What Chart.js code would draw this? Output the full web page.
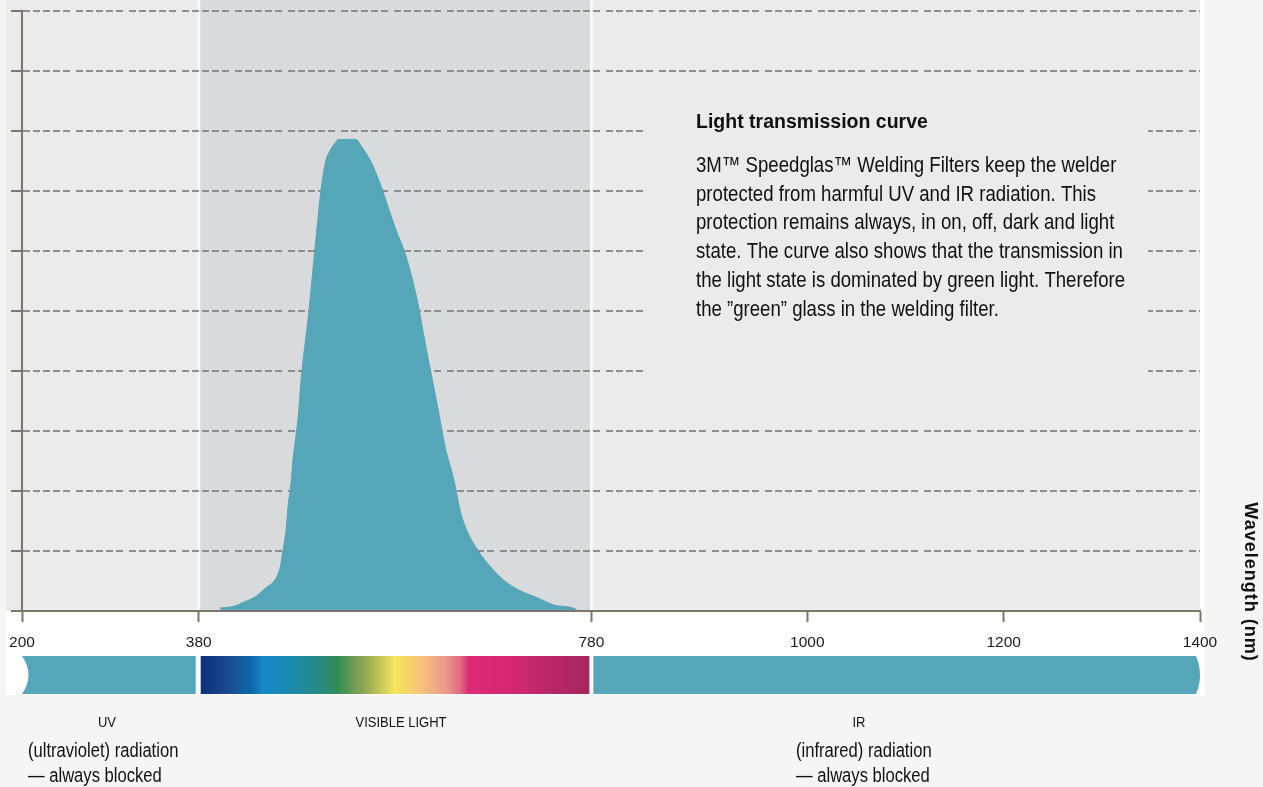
<!DOCTYPE html>
<html>
<head>
<meta charset="utf-8">
<script src="https://cdn.jsdelivr.net/npm/chart.js@4.4.1/dist/chart.umd.min.js"></script>
<style>
    html, body { margin: 0; padding: 0; background: #f5f5f5; }
    #wrap { width: 1263px; height: 787px; }
</style>
</head>
<body>
<div id="wrap"><canvas id="myChart" width="1263" height="787"></canvas></div>
<script>
// curve (nm / relative transmission, 0-100)
const wavelengths = [402, 416, 425, 438, 448, 459, 463, 466, 469, 471, 474, 476, 479, 482, 484, 492, 497, 500, 505, 509,
    514, 520, 522, 540, 546, 556, 566, 573, 581, 590, 597, 604, 610, 618, 624, 631, 640, 647, 653, 662,
    674, 691, 706, 725, 742, 764, 766];
const transmission = [0.5, 0.8, 1.4, 2.4, 3.8, 5.5, 7.3, 10.2, 13.5, 17.4, 21.3, 25.2, 29.1, 33.5, 38.0, 49.6, 58.0, 63.0, 70.7, 74.7,
    76.8, 78.2, 78.6, 78.6, 77.4, 74.7, 70.7, 67.3, 63.5, 59.7, 55.7, 50.7, 45.3, 38.5, 33.5, 27.4, 21.8, 16.3, 13.5, 10.7,
    8.0, 5.1, 3.5, 2.2, 1.0, 0.3, 0];

const tickValues = [200, 380, 780, 1000, 1200, 1400];

const bandNames = ['UV', 'VISIBLE LIGHT', 'IR'];
const bandStart = [200, 380, 780];
const bandEnd = [380, 780, 1400];
const bandNotes = [['(ultraviolet) radiation', '\u2014 always blocked'], [], ['(infrared) radiation', '\u2014 always blocked']];

const spectrumStops = [0, 0.08, 0.13, 0.16, 0.22, 0.30, 0.35, 0.42, 0.50, 0.57, 0.63, 0.67, 0.69, 0.80, 1];
const spectrumColors = ['#0b2f78', '#1a4f93', '#0a68ac', '#1589c7', '#1a8ab4', '#268a88', '#318a55', '#8ea653',
    '#f7e65a', '#f6c07c', '#eb9a8a', '#e06680', '#dc2a77', '#d32870', '#a3265d'];

const noteTitle = 'Light transmission curve';
const noteLines = [
    '3M\u2122 Speedglas\u2122 Welding Filters keep the welder',
    'protected from harmful UV and IR radiation. This',
    'protection remains always, in on, off, dark and light',
    'state. The curve also shows that the transmission in',
    'the light state is dominated by green light. Therefore',
    'the \u201dgreen\u201d glass in the welding filter.'
];
const axisTitle = 'Wavelength (nm)';

const TEAL = '#55a6b8';
const AXIS = '#7b7770';
const GRID = '#8e8e8e';
const PANEL_BG = '#ebebeb';
const VISIBLE_BG = '#d9dadc';
const PAGE_BG = '#f5f5f5';
const FONT = "'Liberation Sans', Arial, sans-serif";

let myChart = null;

// no narrow face installed, so squeeze the regular one sideways
function condensedText(ctx, text, x, y, sx) {
    ctx.save();
    ctx.translate(x, y);
    ctx.scale(sx, 1);
    ctx.fillText(text, 0, 0);
    ctx.restore();
}

const backdropPlugin = {
    id: 'backdrop',
    beforeDraw(chart) {
        const { ctx, chartArea: a } = chart;
        const x = chart.scales.x;
        ctx.save();
        ctx.fillStyle = PAGE_BG;
        ctx.fillRect(0, 0, chart.width, chart.height);
        ctx.fillStyle = '#ffffff';
        ctx.fillRect(6, 0, a.right - 1, 695);
        ctx.fillStyle = PANEL_BG;
        ctx.fillRect(6, 0, a.right - 6, a.bottom);

        const v0 = x.getPixelForValue(bandStart[1]);
        const v1 = x.getPixelForValue(bandEnd[1]);
        ctx.fillStyle = VISIBLE_BG;
        ctx.fillRect(v0, 0, v1 - v0, a.bottom);
        ctx.strokeStyle = '#f8f8f8';
        ctx.lineWidth = 3;
        [v0, v1].forEach(px => {
            ctx.beginPath();
            ctx.moveTo(px, 0);
            ctx.lineTo(px, a.bottom);
            ctx.stroke();
        });
        ctx.restore();
    }
};

const notePlugin = {
    id: 'note',
    afterDatasetsDraw(chart) {
        const ctx = chart.ctx;
        ctx.save();
        ctx.fillStyle = PANEL_BG;
        ctx.fillRect(643, 100, 505, 300);
        ctx.fillStyle = '#111111';
        ctx.textAlign = 'left';
        ctx.textBaseline = 'alphabetic';
        ctx.font = `bold 19.5px ${FONT}`;
        ctx.fillText(noteTitle, 696, 128);
        ctx.font = `21.5px ${FONT}`;
        noteLines.forEach((line, i) => condensedText(ctx, line, 696, 172 + i * 28.7, 0.865));
        ctx.restore();
    }
};

const bandPlugin = {
    id: 'spectrumBand',
    afterDraw(chart) {
        const ctx = chart.ctx;
        const x = chart.scales.x;
        const top = 656, bot = 694, mid = (top + bot) / 2;
        const xs = bandStart.map(v => x.getPixelForValue(v));
        const xe = bandEnd.map(v => x.getPixelForValue(v));
        ctx.save();

        // UV part, notched left end
        ctx.fillStyle = TEAL;
        ctx.beginPath();
        ctx.moveTo(xs[0], top);
        ctx.lineTo(xe[0] - 3, top);
        ctx.lineTo(xe[0] - 3, bot);
        ctx.lineTo(xs[0], bot);
        ctx.quadraticCurveTo(xs[0] + 13, mid, xs[0], top);
        ctx.fill();

        // visible spectrum
        const g = ctx.createLinearGradient(xs[1] + 2, 0, xe[1] - 2, 0);
        spectrumStops.forEach((s, i) => g.addColorStop(s, spectrumColors[i]));
        ctx.fillStyle = g;
        ctx.fillRect(xs[1] + 2, top, xe[1] - xs[1] - 4, bot - top);

        // IR part, rounded right end
        ctx.fillStyle = TEAL;
        ctx.beginPath();
        ctx.moveTo(xs[2] + 2, top);
        ctx.lineTo(xe[2] - 4, top);
        ctx.quadraticCurveTo(xe[2] + 4, mid, xe[2] - 4, bot);
        ctx.lineTo(xs[2] + 2, bot);
        ctx.closePath();
        ctx.fill();

        // band labels
        const labelX = [107, 401, 859];
        const noteX = [28, 0, 796];
        ctx.fillStyle = '#111111';
        ctx.textBaseline = 'alphabetic';
        bandNames.forEach((name, i) => {
            ctx.font = `15px ${FONT}`;
            ctx.textAlign = 'center';
            condensedText(ctx, name, labelX[i], 727, 0.865);
            ctx.font = `20px ${FONT}`;
            ctx.textAlign = 'left';
            bandNotes[i].forEach((line, j) => condensedText(ctx, line, noteX[i], 757 + j * 24.5, 0.83));
        });

        // axis title on the right, rotated
        ctx.translate(1250, 582);
        ctx.rotate(Math.PI / 2);
        ctx.font = `bold 18px ${FONT}`;
        ctx.letterSpacing = '1px';
        ctx.textAlign = 'center';
        ctx.textBaseline = 'middle';
        ctx.fillText(axisTitle, 0, 0);
        ctx.restore();
    }
};

function setupChart() {
    const ctx = document.getElementById('myChart');
    myChart = new Chart(ctx, {
        type: 'line',
        data: {
            datasets: [{
                data: wavelengths.map((w, i) => ({ x: w, y: transmission[i] })),
                fill: 'origin',
                backgroundColor: TEAL,
                borderColor: TEAL,
                borderWidth: 1,
                pointRadius: 0,
                cubicInterpolationMode: 'monotone'
            }]
        },
        options: {
            responsive: false,
            animation: false,
            layout: { padding: { top: 11, right: 63, left: 0, bottom: 0 } },
            plugins: {
                legend: { display: false },
                tooltip: { enabled: false }
            },
            scales: {
                x: {
                    type: 'linear',
                    min: 200,
                    max: 1400,
                    afterBuildTicks: scale => { scale.ticks = tickValues.map(v => ({ value: v })); },
                    afterFit: scale => {
                        scale.height = 176;
                        scale.paddingLeft = 0;
                        scale.paddingRight = 0;
                    },
                    ticks: {
                        autoSkip: false,
                        maxRotation: 0,
                        padding: 11,
                        color: '#1a1a1a',
                        font: { family: FONT, size: 15.5 },
                        callback: v => String(v)
                    },
                    grid: { drawOnChartArea: false, drawTicks: true, tickLength: 11, tickColor: AXIS, tickWidth: 2 },
                    border: { display: true, color: AXIS, width: 2, z: 1 }
                },
                y: {
                    min: 0,
                    max: 100,
                    afterFit: scale => { scale.width = 22; },
                    ticks: { stepSize: 10, display: false },
                    grid: { color: GRID, lineWidth: 2, drawTicks: true, tickLength: 11, tickColor: AXIS, tickWidth: 2 },
                    border: { display: true, color: AXIS, width: 2, dash: [7, 3, 7, 3, 7, 3, 7, 3, 7, 6] }
                }
            }
        },
        plugins: [backdropPlugin, notePlugin, bandPlugin]
    });
}

setupChart();
</script>
</body>
</html>
